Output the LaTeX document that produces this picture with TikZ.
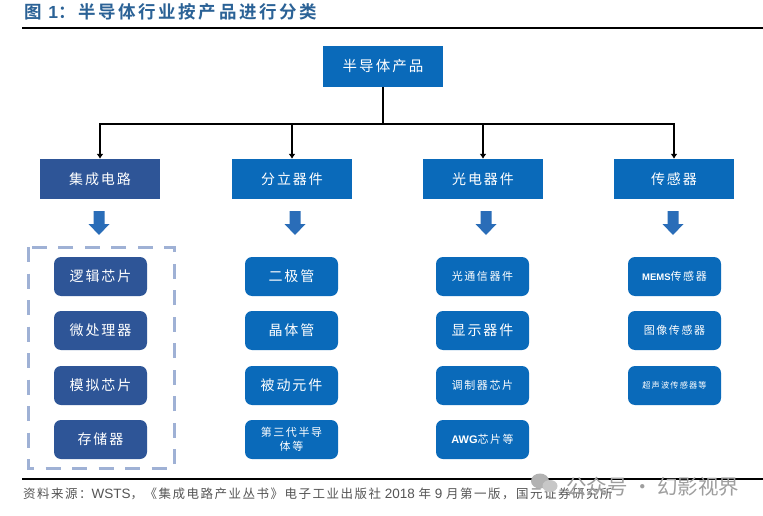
\documentclass[tikz,border=0pt]{standalone}
\usepackage{fontspec}
\setmainfont{Liberation Sans}
\newfontfamily\cjk[LetterSpace=14]{Noto Sans CJK SC}
\newfontfamily\cjktight{Noto Sans CJK SC}
\newfontfamily\cjksrc[LetterSpace=12]{Noto Sans CJK SC}
\newfontfamily\cjkbold[LetterSpace=15]{Noto Sans CJK SC Bold}
\usetikzlibrary{arrows.meta}
\definecolor{bluebox}{HTML}{0A6ABA}
\definecolor{navybox}{HTML}{2E5597}
\definecolor{titleblue}{HTML}{2B6296}
\definecolor{dashblue}{HTML}{9FB1D5}
\definecolor{arrowblue}{HTML}{2A6DB8}
\definecolor{srcgrey}{HTML}{555555}
\tikzset{
  x=1pt,y=-1pt,
  head/.style={fill=bluebox,text=white,minimum width=120pt,minimum height=40pt,inner sep=0pt,font=\cjk\fontsize{14}{16}\selectfont},
  navyhead/.style={head,fill=navybox},
  item/.style={fill=bluebox,text=white,rounded corners=7pt,minimum width=93pt,minimum height=39pt,inner sep=0pt,align=center,font=\cjk\fontsize{14}{16}\selectfont},
  navyitem/.style={item,fill=navybox},
  small/.style={font=\cjk\fontsize{11}{14.5}\selectfont},
  tiny/.style={font=\cjk\fontsize{8.2}{10}\selectfont},
  link/.style={draw=black,line width=1.5pt},
  linkarrow/.style={link,-{Latex[length=5pt,width=7pt]}},
  rule/.style={draw=black,line width=2pt},
  down/.pic={\fill[arrowblue] (-5.5,0) -- (5.5,0) -- (5.5,13) -- (10.5,13) -- (0,24) -- (-10.5,13) -- (-5.5,13) -- cycle;}
}
\begin{document}
\begin{tikzpicture}
\useasboundingbox (0,0) rectangle (763,516);
\fill[white] (0,0) rectangle (763,516);
% title and rules
\node[anchor=west,inner sep=0pt,text=titleblue,font=\cjkbold\fontsize{17.5}{19}\selectfont] (title) at (24,11.5) {图 {\fontspec{Liberation Sans Bold}1}：半导体行业按产品进行分类};
\coordinate (r1a) at (22,28); \coordinate (r1b) at (763,28);
\coordinate (r2a) at (22,479); \coordinate (r2b) at (763,479);
\draw[rule] (r1a) -- (r1b);
\draw[rule] (r2a) -- (r2b);
% top and heads
\node[head,minimum height=41pt,font=\cjk\fontsize{14.5}{16}\selectfont] (top) at (383,66.5) {半导体产品};
\node[navyhead] (h1) at (100,179) {集成电路};
\node[head] (h2) at (292,179) {分立器件};
\node[head] (h3) at (483,179) {光电器件};
\node[head] (h4) at (674,179) {传感器};
\coordinate (bus) at (383,124);
\draw[link] (top.south) -- (bus);
\foreach \n in {h1,h2,h3,h4} \draw[linkarrow] (bus) -| (\n.north);
% block arrows
\pic at (99,211) {down};
\pic at (295,211) {down};
\pic at (486,211) {down};
\pic at (673,211) {down};
% dashed frame
\coordinate (d1) at (28,247); \coordinate (d2) at (174,468);
\draw[draw=dashblue,line width=3pt,dash pattern=on 15pt off 11.5pt] (d1) rectangle (d2);
% column 1
\node[navyitem] (i11) at (100.5,276.5) {逻辑芯片};
\node[navyitem] (i12) at (100.5,330.5) {微处理器};
\node[navyitem] (i13) at (100.5,385.5) {模拟芯片};
\node[navyitem] (i14) at (100.5,439.5) {存储器};
% column 2
\node[item] (i21) at (291.5,276.5) {二极管};
\node[item] (i22) at (291.5,330.5) {晶体管};
\node[item] (i23) at (291.5,385.5) {被动元件};
\node[item,small] (i24) at (291.5,439.5) {第三代半导\\体等};
% column 3
\node[item,small] (i31) at (482.5,276.5) {光通信器件};
\node[item] (i32) at (482.5,330.5) {显示器件};
\node[item,small] (i33) at (482.5,385.5) {调制器芯片};
\node[item,small] (i34) at (482.5,439.5) {{\fontspec{Liberation Sans Bold}AWG}芯片等};
% column 4
\node[item,small] (i41) at (674.5,276.5) {{\fontspec{Liberation Sans Bold}\fontsize{9.5}{12}\selectfont MEMS}传感器};
\node[item,small] (i42) at (674.5,330.5) {图像传感器};
\node[item,tiny] (i43) at (674.5,385.5) {超声波传感器等};
% source
\node[anchor=west,inner sep=0pt,text=srcgrey,font=\fontsize{13.5}{15}\selectfont] (src) at (23,494) {{\cjksrc\fontsize{12.5}{14}\selectfont 资料来源：}WSTS{\cjksrc\fontsize{12.5}{14}\selectfont ，《集成电路产业丛书》电子工业出版社} 2018 {\cjksrc\fontsize{12.5}{14}\selectfont 年} 9 {\cjksrc\fontsize{12.5}{14}\selectfont 月第一版，国元证券研究所}};
% watermark
\fill[black!30] (540,481) ellipse (9pt and 7.5pt);
\fill[black!22] (550,486) ellipse (7.5pt and 6pt);
\node[anchor=west,inner sep=0pt,text=black!38,font=\cjktight\fontsize{20.5}{22}\selectfont] (wm) at (566,487) {公众号 · 幻影视界};
\end{tikzpicture}
\end{document}
